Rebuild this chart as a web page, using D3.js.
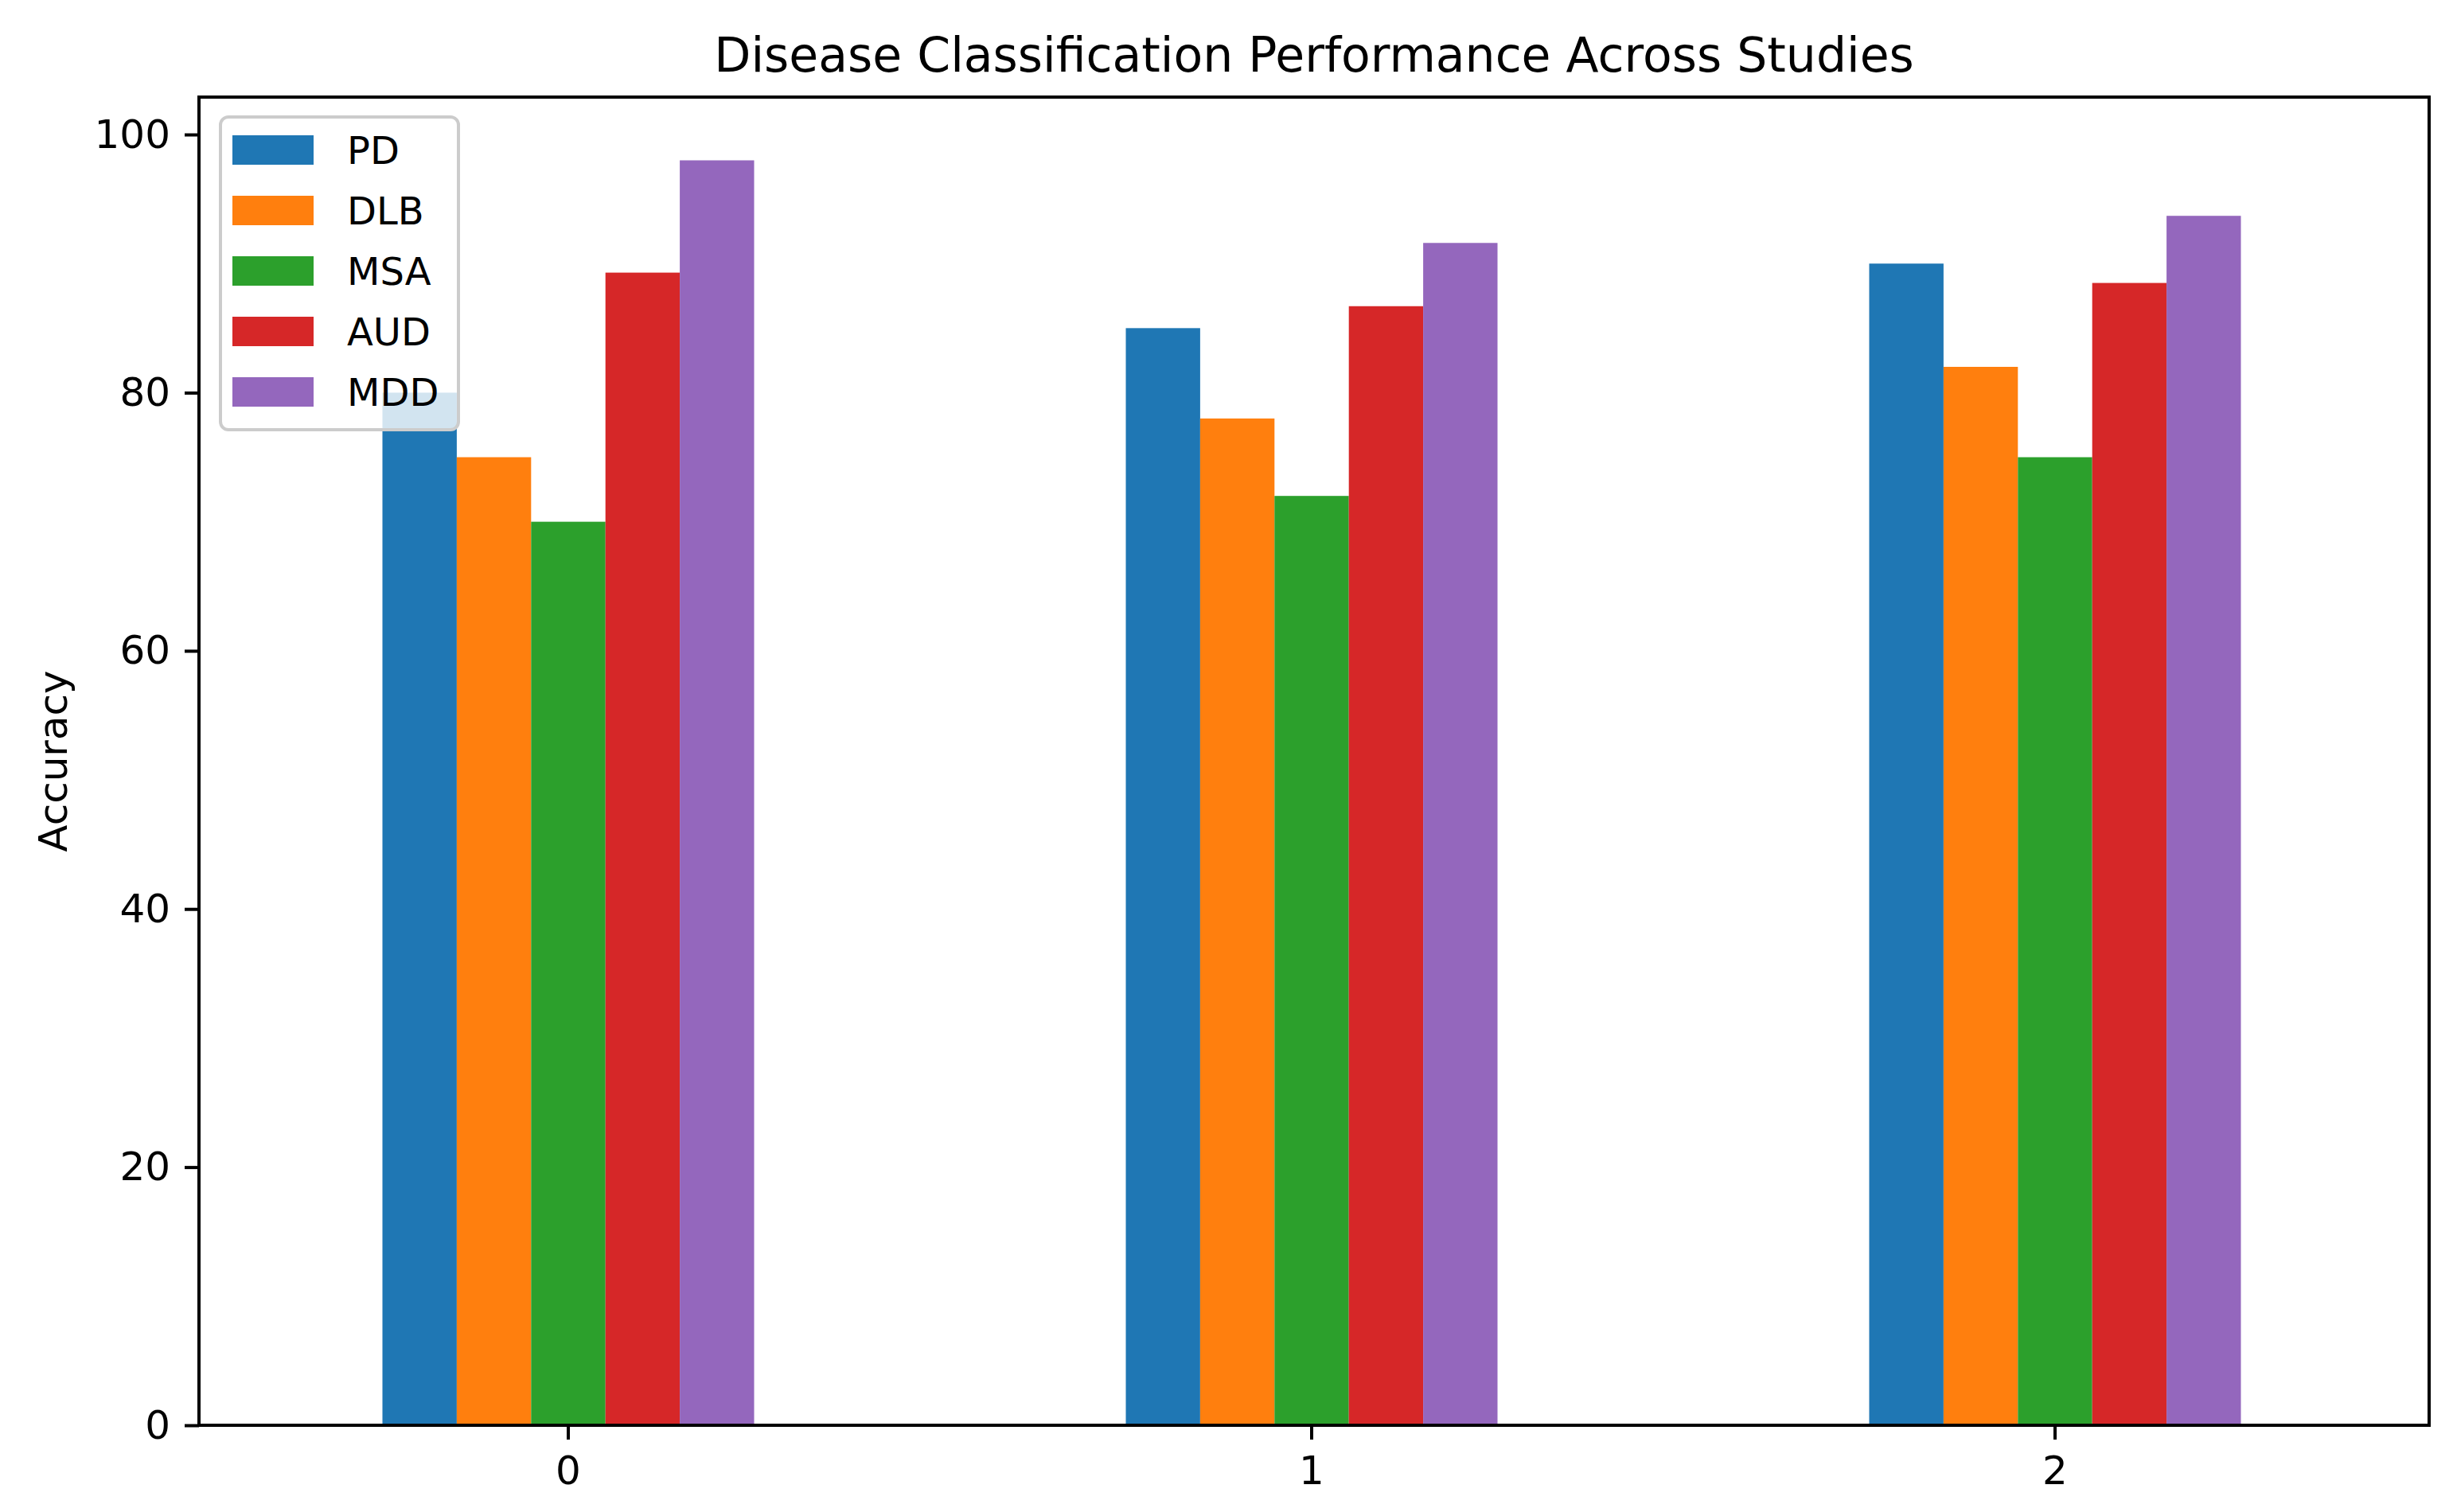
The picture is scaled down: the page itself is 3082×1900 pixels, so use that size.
<!DOCTYPE html>
<html>
<head>
<meta charset="utf-8">
<script src="https://cdn.jsdelivr.net/npm/d3@7"></script>
<style>
  body { margin: 0; background: #fff; }
  text { font-family: 'DejaVu Sans', sans-serif; fill: #000; }
</style>
</head>
<body>
<div id="chart"></div>
<script>
var studies = ['0', '1', '2'];
var diseases = ['PD', 'DLB', 'MSA', 'AUD', 'MDD'];
var pdValues = [80, 85, 90];
var dlbValues = [75, 78, 82];
var msaValues = [70, 72, 75];
var audValues = [89.3, 86.7, 88.5];
var mddValues = [98, 91.6, 93.7];
var yTicks = [0, 20, 40, 60, 80, 100];

var seriesValues = [pdValues, dlbValues, msaValues, audValues, mddValues];

var width = 3082;
var height = 1900;
var margin = { top: 122, right: 30, bottom: 109, left: 250 };
var graphWidth = width - margin.left - margin.right;
var graphHeight = height - margin.top - margin.bottom;

var color = d3
  .scaleOrdinal()
  .domain(diseases)
  .range(['#1f77b4', '#ff7f0e', '#2ca02c', '#d62728', '#9467bd']);

var svg = d3
  .select('#chart')
  .append('svg')
  .attr('width', width)
  .attr('height', height);

var graph = svg
  .append('g')
  .attr('transform', 'translate(' + margin.left + ',' + margin.top + ')');

// scales: groups of bars take half of each step, like pandas bar plots
var x = d3
  .scaleBand()
  .domain(studies)
  .range([-3, graphWidth - 3])
  .paddingInner(0.5)
  .paddingOuter(0.25);

var xInner = d3
  .scaleBand()
  .domain(diseases)
  .range([0, x.bandwidth()]);

var yMax = d3.max(seriesValues, s => d3.max(s)) * 1.05;
var y = d3
  .scaleLinear()
  .domain([0, yMax])
  .range([graphHeight, 0]);

// bars
var rows = [];
diseases.forEach((d, i) => {
  studies.forEach((s, j) => {
    rows.push({ disease: d, study: s, value: seriesValues[i][j] });
  });
});

graph
  .selectAll('rect.bar')
  .data(rows)
  .enter()
  .append('rect')
  .attr('class', 'bar')
  .attr('x', d => x(d.study) + xInner(d.disease))
  .attr('y', d => y(d.value))
  .attr('width', xInner.bandwidth())
  .attr('height', d => graphHeight - y(d.value))
  .attr('fill', d => color(d.disease));

// axes
var xAxis = d3
  .axisBottom(x)
  .tickSize(18)
  .tickPadding(20)
  .tickSizeOuter(0);
var yAxis = d3
  .axisLeft(y)
  .tickValues(yTicks)
  .tickSize(18)
  .tickPadding(18)
  .tickSizeOuter(0);

var xAxisGroup = graph
  .append('g')
  .attr('transform', 'translate(0,' + graphHeight + ')')
  .call(xAxis);
var yAxisGroup = graph.append('g').call(yAxis);

[xAxisGroup, yAxisGroup].forEach(g => {
  g.select('.domain').remove();
  g.selectAll('line').attr('stroke', '#000').attr('stroke-width', 4);
  g.selectAll('text')
    .style('font-size', '50px')
    .style('font-family', "'DejaVu Sans', sans-serif")
    .attr('fill', '#000');
});

// frame
graph
  .append('rect')
  .attr('width', graphWidth)
  .attr('height', graphHeight)
  .attr('fill', 'none')
  .attr('stroke', '#000')
  .attr('stroke-width', 4);

// title and y label
svg
  .append('text')
  .attr('x', margin.left + graphWidth / 2)
  .attr('y', 90)
  .attr('text-anchor', 'middle')
  .style('font-size', '60px')
  .text('Disease Classification Performance Across Studies');

svg
  .append('text')
  .attr('transform', 'translate(84,' + (margin.top + graphHeight / 2) + ') rotate(-90)')
  .attr('text-anchor', 'middle')
  .style('font-size', '50px')
  .text('Accuracy');

// legend
var legend = graph.append('g').attr('transform', 'translate(27,25)');
var legendRow = d3
  .scalePoint()
  .domain(diseases)
  .range([0, 76 * (diseases.length - 1)]);

legend
  .append('rect')
  .attr('width', 299)
  .attr('height', 393)
  .attr('rx', 10)
  .attr('fill', '#fff')
  .attr('fill-opacity', 0.8)
  .attr('stroke', '#cccccc')
  .attr('stroke-width', 4);

var items = legend
  .selectAll('g.item')
  .data(diseases)
  .enter()
  .append('g')
  .attr('class', 'item')
  .attr('transform', d => 'translate(0,' + (23 + legendRow(d)) + ')');

items
  .append('rect')
  .attr('x', 15)
  .attr('width', 102)
  .attr('height', 37)
  .attr('fill', d => color(d));

items
  .append('text')
  .attr('x', 159)
  .attr('y', 36)
  .style('font-size', '48px')
  .text(d => d);
</script>
</body>
</html>
